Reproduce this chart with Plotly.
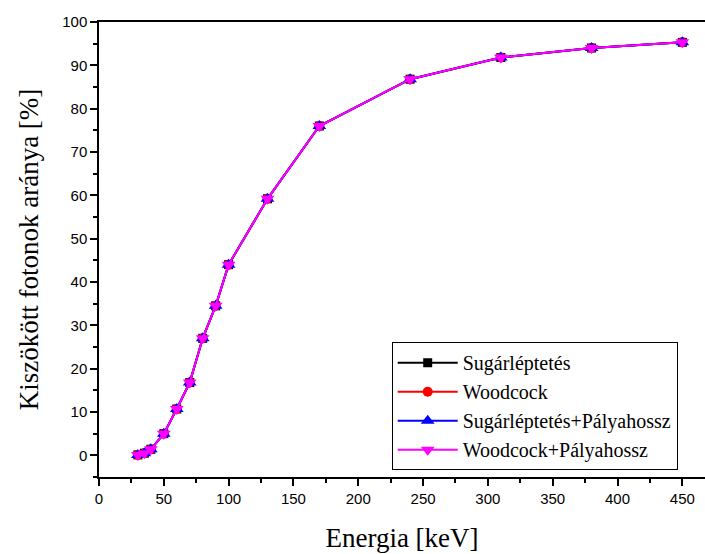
import plotly.graph_objects as go

energy = [30, 35, 40, 50, 60, 70, 80, 90, 100, 130, 170, 240, 310, 380, 450]
sugar = [0.1, 0.5, 1.4, 5.0, 10.7, 16.8, 27.0, 34.5, 44.0, 59.2, 76.0, 86.8, 91.8, 94.0, 95.3]
woodcock = [0.1, 0.5, 1.4, 5.0, 10.7, 16.8, 27.0, 34.5, 44.0, 59.2, 76.0, 86.8, 91.8, 94.0, 95.3]
sugar_paly = [0.1, 0.5, 1.4, 5.0, 10.7, 16.8, 27.0, 34.5, 44.0, 59.2, 76.0, 86.8, 91.8, 94.0, 95.3]
woodcock_paly = [0.1, 0.5, 1.4, 5.0, 10.7, 16.8, 27.0, 34.5, 44.0, 59.2, 76.0, 86.8, 91.8, 94.0, 95.3]

series = [
    ("Sugárléptetés", sugar, "black", "square", 9),
    ("Woodcock", woodcock, "red", "circle", 10),
    ("Sugárléptetés+Pályahossz", sugar_paly, "blue", "triangle-up", 12),
    ("Woodcock+Pályahossz", woodcock_paly, "magenta", "triangle-down", 12),
]

SERIF = "Times New Roman"
SANS = "Arial"

fig = go.Figure()
for name, vals, col, sym, sz in series:
    fig.add_trace(go.Scatter(
        x=energy, y=vals, name=name, mode="lines+markers",
        line=dict(color=col, width=2),
        marker=dict(symbol=sym, color=col, size=sz),
    ))

fig.update_layout(
    width=705, height=554,
    margin=dict(l=99, r=0, t=22, b=77),
    paper_bgcolor="white", plot_bgcolor="white",
    font=dict(family=SANS, color="black", size=15),
    legend=dict(
        x=0.483, y=0.015, xanchor="left", yanchor="bottom",
        bgcolor="white", bordercolor="black", borderwidth=1,
        font=dict(family=SERIF, size=20, color="black"),
        itemwidth=60,
    ),
    showlegend=True,
)
fig.update_xaxes(
    range=[0, 467.5], tickmode="linear", tick0=0, dtick=50,
    ticks="outside", ticklen=7, tickwidth=1.5, tickcolor="black",
    minor=dict(dtick=25, ticks="outside", ticklen=4, tickwidth=1.5, tickcolor="black"),
    showline=True, linecolor="black", linewidth=1.5, mirror=True,
    showgrid=False, zeroline=False,
    title=dict(text="Energia [keV]", font=dict(family=SERIF, size=27), standoff=22),
)
fig.update_yaxes(
    range=[-5, 100], tickmode="linear", tick0=0, dtick=10,
    ticks="outside", ticklen=7, tickwidth=1.5, tickcolor="black",
    minor=dict(dtick=5, ticks="outside", ticklen=4, tickwidth=1.5, tickcolor="black"),
    showline=True, linecolor="black", linewidth=1.5, mirror=False,
    showgrid=False, zeroline=False,
    title=dict(text="Kiszökött fotonok aránya [%]", font=dict(family=SERIF, size=27), standoff=16),
)

fig.write_html("out.html")
